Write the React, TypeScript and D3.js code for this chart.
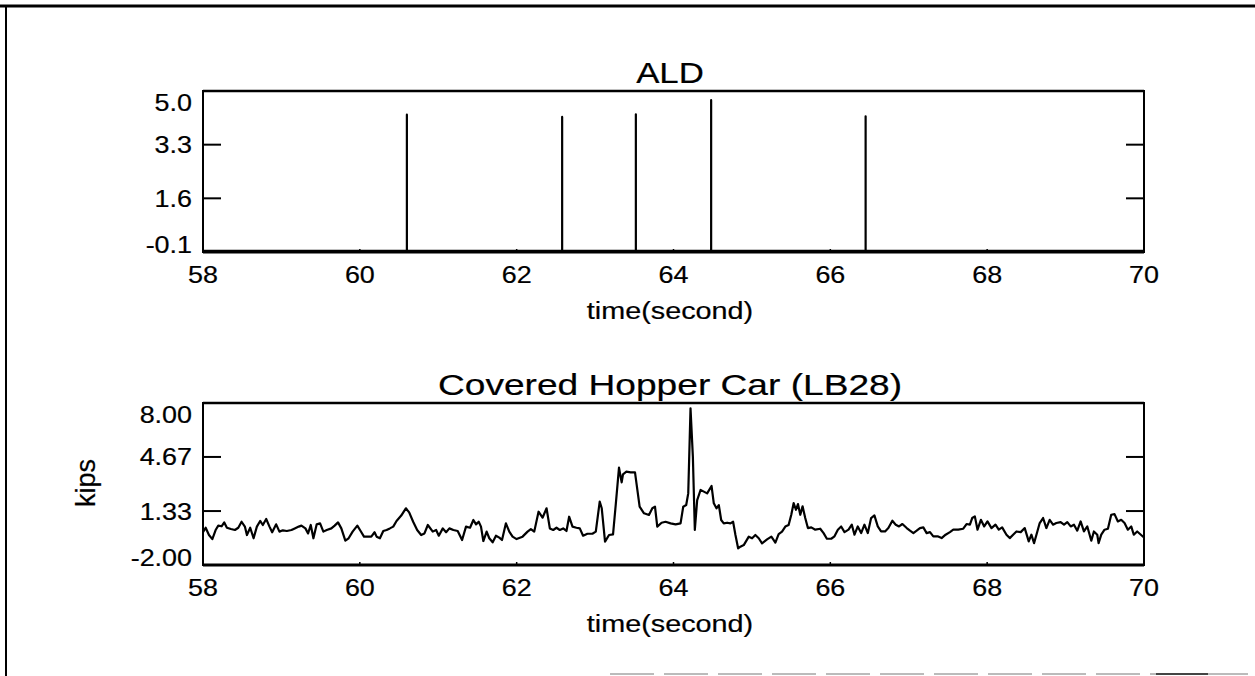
import React from "react";
import * as d3 from "d3";

// ---------- data ----------
const xTicks = [58, 60, 62, 64, 66, 68, 70];

const aldTitle = "ALD";
const aldYTicks = [5.0, 3.3, 1.6, -0.1];
const aldYLabels = ["5.0", "3.3", "1.6", "-0.1"];
const aldSpikeTimes = [60.6, 62.58, 63.52, 64.48, 66.45];
const aldSpikeValues = [4.25, 4.18, 4.26, 4.71, 4.2];
const aldBaseline = -0.06;

const hopTitle = "Covered Hopper Car (LB28)";
const hopYTicks = [8.0, 4.67, 1.33, -2.0];
const hopYLabels = ["8.00", "4.67", "1.33", "-2.00"];
const hopTimes = [
  58.0, 58.034, 58.076, 58.119, 58.161, 58.195, 58.237, 58.271, 58.305, 58.356, 58.407, 58.45, 58.492, 58.534,
  58.56, 58.602, 58.645, 58.687, 58.729, 58.763, 58.806, 58.848, 58.882, 58.933, 58.975, 59.018, 59.069, 59.128,
  59.17, 59.221, 59.255, 59.306, 59.34, 59.374, 59.408, 59.45, 59.493, 59.535, 59.578, 59.637, 59.679, 59.722,
  59.764, 59.815, 59.857, 59.908, 59.968, 60.01, 60.053, 60.103, 60.146, 60.188, 60.214, 60.256, 60.299, 60.341,
  60.383, 60.426, 60.468, 60.528, 60.587, 60.629, 60.68, 60.731, 60.782, 60.824, 60.867,
  60.93, 60.973, 61.007, 61.058, 61.1, 61.142, 61.193, 61.248, 61.304, 61.354, 61.405, 61.448, 61.482, 61.516,
  61.545, 61.575, 61.617, 61.651, 61.694, 61.736, 61.779, 61.813, 61.863, 61.906, 61.948, 61.999, 62.075, 62.139,
  62.181, 62.224, 62.279, 62.33, 62.381, 62.423, 62.466, 62.508, 62.55, 62.593, 62.635, 62.669, 62.712, 62.762,
  62.805, 62.847, 62.902, 62.966, 63.009, 63.059, 63.085, 63.127, 63.178, 63.229, 63.263, 63.305, 63.339, 63.356,
  63.399, 63.454, 63.509,
  63.568, 63.624, 63.687, 63.73, 63.764, 63.793, 63.848, 63.899, 63.963, 64.027, 64.09, 64.124, 64.162, 64.188,
  64.217, 64.247, 64.272, 64.302, 64.345, 64.387, 64.429, 64.485, 64.514, 64.548, 64.578, 64.608, 64.641, 64.684,
  64.726, 64.76, 64.79, 64.824, 64.853, 64.896, 64.96, 65.002, 65.044, 65.087, 65.129, 65.193, 65.248, 65.278,
  65.299, 65.341, 65.384, 65.426, 65.468,
  65.502, 65.532, 65.562, 65.587, 65.617, 65.646, 65.68, 65.714, 65.757, 65.808, 65.871, 65.914, 65.956, 66.011,
  66.053, 66.096, 66.138, 66.181, 66.232, 66.274, 66.308, 66.35, 66.393, 66.435, 66.478, 66.52, 66.562, 66.605,
  66.647, 66.698, 66.74, 66.791, 66.834, 66.876, 66.919, 66.974, 67.016, 67.059, 67.101, 67.143, 67.186, 67.228,
  67.271, 67.313, 67.368, 67.419, 67.47, 67.525, 67.568, 67.631, 67.695, 67.737, 67.78, 67.809, 67.843, 67.877,
  67.92, 67.962, 68.004, 68.055, 68.106, 68.148, 68.191, 68.246, 68.288, 68.331, 68.373, 68.428, 68.479, 68.53,
  68.564, 68.598, 68.64, 68.67, 68.713, 68.755, 68.797, 68.84, 68.882, 68.937, 68.98, 69.022, 69.065, 69.107,
  69.149, 69.192, 69.234, 69.277, 69.328, 69.361, 69.404, 69.421, 69.455, 69.497, 69.54, 69.582, 69.624, 69.667,
  69.709, 69.752, 69.794, 69.837, 69.87, 69.913, 70.0,
];
const hopValues = [
  0.02, 0.3, -0.15, -0.4, 0.16, 0.43, 0.39, 0.63, 0.3, 0.22, 0.16, 0.3, 0.67, 0.37,
  -0.15, 0.3, -0.35, 0.37, 0.72, 0.47, 0.84, 0.37, 0.02, 0.51, 0.06, 0.14, 0.1, 0.16,
  0.26, 0.37, 0.43, 0.26, -0.05, 0.47, -0.35, 0.51, 0.57, 0.06, 0.16, 0.26, 0.43, 0.63,
  0.26, -0.5, -0.35, 0.06, 0.43, 0.1, -0.25, -0.25, -0.25, 0.02, -0.25, -0.35, 0.1, 0.16,
  0.26, 0.37, 0.72, 1.05, 1.5, 1.25, 0.67, 0.16, -0.15, -0.05, 0.47,
  0.06, 0.16, -0.19, 0.26, 0.02, 0.26, 0.16, 0.1, -0.46, 0.37, 0.3, 0.78, 0.51, 0.67,
  0.37, -0.52, 0.06, -0.35, -0.6, -0.19, -0.31, -0.46, 0.57, 0.06, -0.25, -0.4, -0.25, 0.06,
  0.22, 0.06, 1.29, 0.92, 1.5, 0.26, 0.16, 0.3, 0.16, 0.26, 0.1, 0.98, 0.37, 0.3,
  0.26, -0.19, -0.07, -0.07, 0.06, 1.91, 1.5, -0.56, -0.15, -0.11, 1.7, 4.01, 3.1, 3.6,
  3.76, 3.72, 3.72,
  1.6, 1.19, 1.09, 1.5, 1.6, 0.37, 0.61, 0.67, 0.57, 0.51, 0.57, 1.6, 1.7, 2.42,
  7.67, 4.69, 0.16, 2.01, 2.63, 2.53, 2.42, 2.88, 1.81, 1.5, 1.7, 0.78, 0.57, 0.61,
  0.57, 0.67, -0.15, -0.97, -0.87, -0.77, -0.25, -0.35, -0.15, -0.35, -0.66, -0.42, -0.25, -0.46,
  -0.62, -0.09, 0.06, 0.37, 0.47,
  1.1, 1.82, 1.41, 1.76, 1.1, 1.62, 0.9, 0.28, 0.32, 0.18, 0.24, -0.03, -0.38, -0.38,
  -0.23, 0.18, 0.38, 0.03, 0.18, 0.49, -0.13, 0.38, -0.03, 0.49, -0.03, 0.9, 1.06, 0.38,
  0.07, 0.07, 0.28, 0.73, 0.49, 0.38, 0.53, 0.28, 0.12, -0.03, 0.12, 0.28, 0.32, -0.03,
  0.03, -0.23, -0.23, -0.34, -0.13, 0.03, 0.18, 0.18, 0.24, 0.53, 0.49, 0.9, 1.0, 0.18,
  0.79, 0.38, 0.69, 0.28, 0.49, 0.18, 0.32, -0.13, -0.34, -0.13, 0.07, 0.03, 0.28, -0.54,
  -0.13, -0.65, 0.07, 0.59, 0.9, 0.28, 0.79, 0.49, 0.59, 0.65, 0.49, 0.65, 0.38, 0.49,
  0.12, 0.69, 0.07, 0.38, -0.5, 0.07, -0.13, -0.65, -0.13, 0.18, 0.24, 1.1, 1.14, 0.69,
  0.79, 0.59, 0.18, 0.38, -0.13, 0.07, -0.3,
];
const xAxisTitle = "time(second)";
const yAxisTitle = "kips";

// ---------- layout ----------
const W = 1255;
const H = 676;
const X0 = 203;
const X1 = 1144;
const FONT = "'Liberation Sans', Arial, Helvetica, sans-serif";
const TICK_FS = 23;
const TICK_SX = 1.17;
const TEXT_STROKE = 0.2;

type P = { t: number; v: number };

function SText(props: {
  x: number; y: number; text: string; size: number; sx?: number; anchor?: string;
}) {
  const { x, y, text, size, sx = 1, anchor = "middle" } = props;
  return (
    <text
      transform={`translate(${x},${y}) scale(${sx},1)`}
      textAnchor={anchor}
      fontFamily={FONT}
      fontSize={size}
      fill="#000"
      stroke="#000"
      strokeWidth={TEXT_STROKE}
    >
      {text}
    </text>
  );
}

function Panel(props: {
  top: number; bottom: number; domain: [number, number];
  yTicks: number[]; yLabels: string[]; title: string; titleSx: number;
  data: P[];
}) {
  const { top, bottom, domain, yTicks, yLabels, title, titleSx, data } = props;
  const x = d3.scaleLinear().domain([58, 70]).range([X0, X1]);
  const y = d3.scaleLinear().domain(domain).range([bottom, top]);
  const line = d3
    .line<P>()
    .x((d) => x(d.t))
    .y((d) => y(d.v));
  const cx = 670;
  const tickLen = 18;
  return (
    <g>
      <SText x={cx} y={top - 8} text={title} size={29} sx={titleSx} />
      <path d={line(data) || ""} fill="none" stroke="#000" strokeWidth={2.2} strokeLinejoin="round" />
      <rect x={X0} y={top} width={X1 - X0} height={bottom - top} fill="none" stroke="#000" strokeWidth={2} />
      <line x1={X0} x2={X1} y1={top} y2={top} stroke="#000" strokeWidth={2.4} />
      <line x1={X0} x2={X1} y1={bottom} y2={bottom} stroke="#000" strokeWidth={3.2} />
      {yTicks.map((v, i) => {
        const yy = y(v);
        const inner = i > 0 && i < yTicks.length - 1;
        const base = Math.min(Math.max(yy + 8.5, top + 20), bottom + 1);
        return (
          <g key={"y" + i}>
            {inner && (
              <>
                <line x1={X0} x2={X0 + tickLen} y1={yy} y2={yy} stroke="#000" strokeWidth={2} />
                <line x1={X1 - tickLen} x2={X1} y1={yy} y2={yy} stroke="#000" strokeWidth={2} />
              </>
            )}
            <SText x={192} y={base} text={yLabels[i]} size={TICK_FS} sx={TICK_SX} anchor="end" />
          </g>
        );
      })}
      {xTicks.map((t, i) => (
        <g key={"x" + i}>
          {i > 0 && i < xTicks.length - 1 && (
            <line x1={x(t)} x2={x(t)} y1={bottom} y2={bottom - 3} stroke="#000" strokeWidth={1.5} />
          )}
          <SText x={x(t)} y={bottom + 31} text={String(t)} size={TICK_FS} sx={TICK_SX} />
        </g>
      ))}
      <SText x={cx} y={bottom + 67} text={xAxisTitle} size={24} sx={1.2} />
    </g>
  );
}

export default function App() {
  const aldData: P[] = [{ t: 58, v: aldBaseline }];
  aldSpikeTimes.forEach((t, i) => {
    aldData.push({ t, v: aldBaseline }, { t, v: aldSpikeValues[i] }, { t, v: aldBaseline });
  });
  aldData.push({ t: 70, v: aldBaseline });

  const hopData: P[] = hopTimes.map((t, i) => ({ t, v: hopValues[i] }));

  return (
    <svg
      width={W}
      height={H}
      viewBox={`0 0 ${W} ${H}`}
      style={{ position: "absolute", left: 0, top: 0, background: "#fff" }}
    >
      <rect x={0} y={0} width={W} height={H} fill="#fff" />
      {/* page frame */}
      <line x1={0} x2={W} y1={6} y2={6} stroke="#000" strokeWidth={3} />
      <line x1={6} x2={6} y1={6} y2={H} stroke="#000" strokeWidth={2} />
      <line x1={610} x2={W} y1={674} y2={674} stroke="#bbb" strokeWidth={2} strokeDasharray="44 10" />
      <line x1={1156} x2={1208} y1={674} y2={674} stroke="#444" strokeWidth={2} />

      <Panel
        top={91}
        bottom={252}
        domain={[-0.1, 5.0]}
        yTicks={aldYTicks}
        yLabels={aldYLabels}
        title={aldTitle}
        titleSx={1.2}
        data={aldData}
      />
      <Panel
        top={403}
        bottom={565}
        domain={[-2.0, 8.0]}
        yTicks={hopYTicks}
        yLabels={hopYLabels}
        title={hopTitle}
        titleSx={1.28}
        data={hopData}
      />
      <text
        transform="translate(95,483) rotate(-90)"
        textAnchor="middle"
        fontFamily={FONT}
        fontSize={27}
        fill="#000"
        stroke="#000"
        strokeWidth={TEXT_STROKE}
      >
        {yAxisTitle}
      </text>
    </svg>
  );
}
